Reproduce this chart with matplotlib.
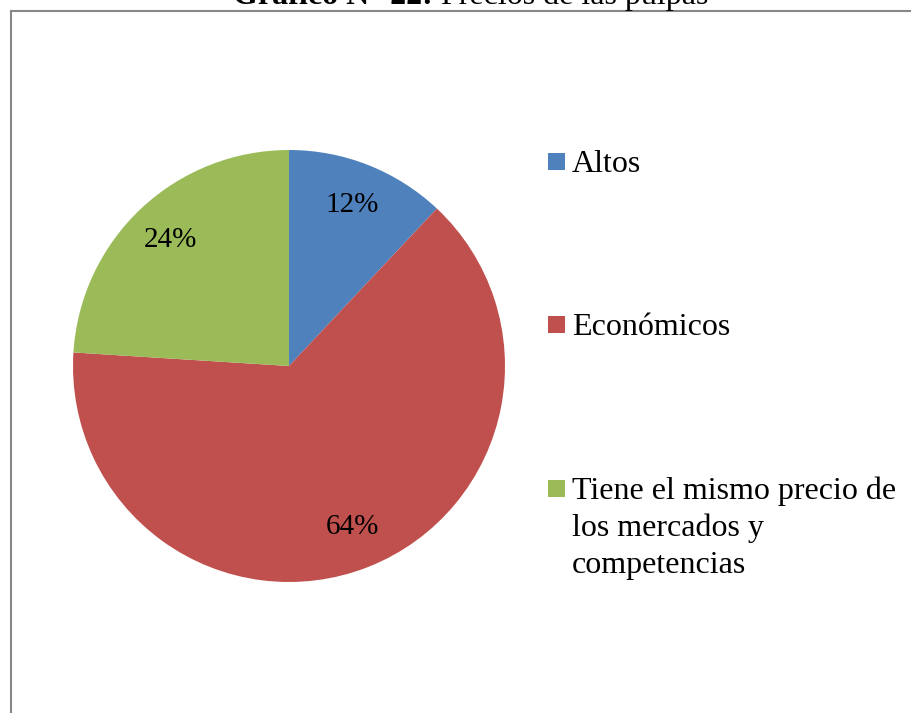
import matplotlib
matplotlib.use("Agg")
import matplotlib.pyplot as plt
from matplotlib.patches import Rectangle
from matplotlib.lines import Line2D

# data
categories = ["Altos", "Económicos", "Tiene el mismo precio de\nlos mercados y\ncompetencias"]
values = [12, 64, 24]
colors = ["#4F81BD", "#C0504D", "#9BBB59"]

W, H = 912, 713
fig = plt.figure(figsize=(W / 100, H / 100), dpi=100)
fig.patch.set_facecolor("white")

def fx(x):
    return x / W

def fy(y):
    return 1 - y / H

# chart frame (cropped on right and bottom)
fig.add_artist(Line2D([fx(11), fx(11)], [fy(11), fy(H + 5)], color="#878787", lw=1.5))
fig.add_artist(Line2D([fx(11), fx(W + 5)], [fy(11), fy(11)], color="#878787", lw=1.5))

# title (partially cut at the top, like the source)
fig.text(fx(233), fy(4), "Gráfico N° 22:", fontsize=23, fontweight="bold",
         family="Liberation Serif", ha="left", va="baseline")
fig.text(fx(441), fy(4), "Precios de las pulpas", fontsize=23,
         family="Liberation Serif", ha="left", va="baseline")

# pie: center (289, 366), radius 216 px
cx, cy, r = 289, 366, 216
ax = fig.add_axes([fx(cx - r), fy(cy + r), 2 * r / W, 2 * r / H])
wedges, texts, autotexts = ax.pie(values, colors=colors, startangle=90, counterclock=False,
                                  autopct="%d%%", pctdistance=0.8,
                                  wedgeprops=dict(linewidth=0),
                                  textprops=dict(fontsize=21, family="Liberation Serif", color="black"))
ax.set_xlim(-1, 1)
ax.set_ylim(-1, 1)
ax.set_aspect("equal")
ax.axis("off")

# legend
leg_base = [172, 335, 499]
line_gap = 37
for lab, col, yb in zip(categories, colors, leg_base):
    sq = Rectangle((fx(548), fy(yb - 2)), 17 / W, 17 / H, transform=fig.transFigure,
                   facecolor=col, edgecolor="none")
    fig.add_artist(sq)
    for k, line in enumerate(lab.split("\n")):
        fig.text(fx(572), fy(yb + k * line_gap), line, fontsize=23, family="Liberation Serif",
                 ha="left", va="baseline")

fig.savefig("out.png", dpi=100)
